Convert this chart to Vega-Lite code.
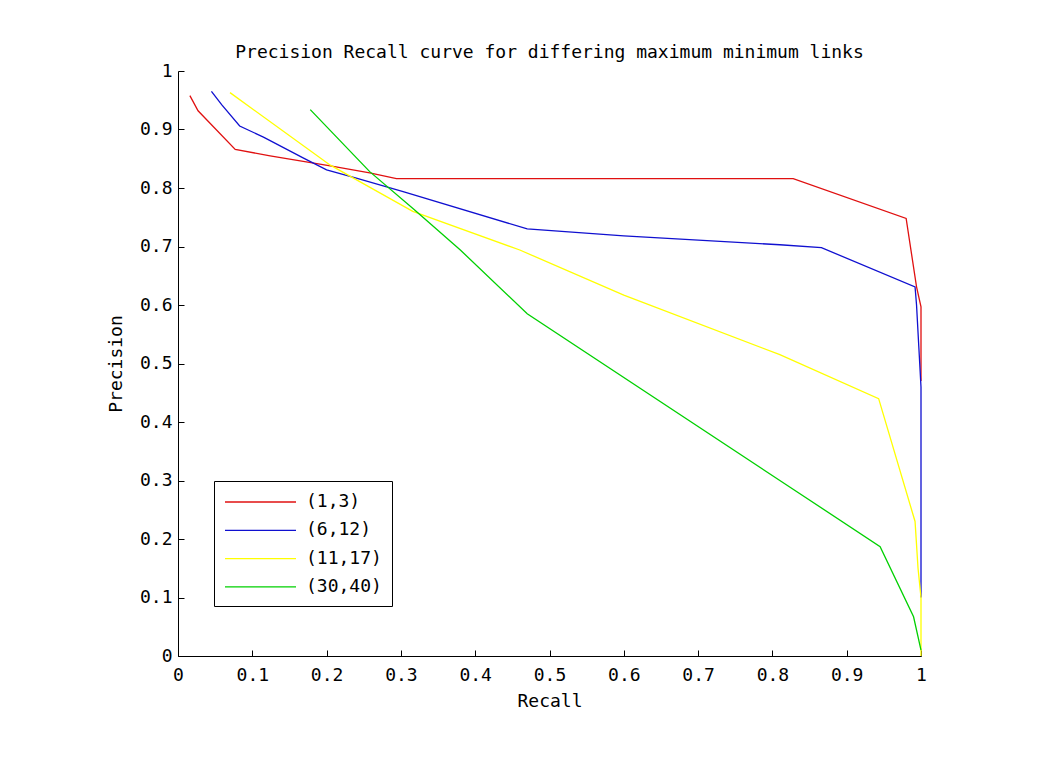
{
  "$schema": "https://vega.github.io/schema/vega-lite/v6.json",
  "width": 743,
  "height": 585,
  "autosize": {"type": "none"},
  "padding": {"left": 178, "top": 71, "right": 135, "bottom": 114},
  "background": "white",
  "title": {
    "text": "Precision Recall curve for differing maximum minimum links",
    "font": "DejaVu Sans Mono",
    "fontSize": 18,
    "fontWeight": "normal",
    "color": "black",
    "offset": 0
  },
  "data": {
    "values": [
      {"series": "(1,3)", "i": 1, "recall": 0.016, "precision": 0.958},
      {"series": "(1,3)", "i": 2, "recall": 0.027, "precision": 0.932},
      {"series": "(1,3)", "i": 3, "recall": 0.077, "precision": 0.866},
      {"series": "(1,3)", "i": 4, "recall": 0.124, "precision": 0.855},
      {"series": "(1,3)", "i": 5, "recall": 0.205, "precision": 0.838},
      {"series": "(1,3)", "i": 6, "recall": 0.258, "precision": 0.826},
      {"series": "(1,3)", "i": 7, "recall": 0.294, "precision": 0.816},
      {"series": "(1,3)", "i": 8, "recall": 0.5, "precision": 0.816},
      {"series": "(1,3)", "i": 9, "recall": 0.828, "precision": 0.816},
      {"series": "(1,3)", "i": 10, "recall": 0.98, "precision": 0.748},
      {"series": "(1,3)", "i": 11, "recall": 0.994, "precision": 0.631},
      {"series": "(1,3)", "i": 12, "recall": 1.0, "precision": 0.597},
      {"series": "(1,3)", "i": 13, "recall": 1.0, "precision": 0.47},
      {"series": "(6,12)", "i": 1, "recall": 0.045, "precision": 0.965},
      {"series": "(6,12)", "i": 2, "recall": 0.059, "precision": 0.942},
      {"series": "(6,12)", "i": 3, "recall": 0.083, "precision": 0.906},
      {"series": "(6,12)", "i": 4, "recall": 0.115, "precision": 0.887},
      {"series": "(6,12)", "i": 5, "recall": 0.169, "precision": 0.851},
      {"series": "(6,12)", "i": 6, "recall": 0.2, "precision": 0.831},
      {"series": "(6,12)", "i": 7, "recall": 0.24, "precision": 0.817},
      {"series": "(6,12)", "i": 8, "recall": 0.303, "precision": 0.794},
      {"series": "(6,12)", "i": 9, "recall": 0.47, "precision": 0.73},
      {"series": "(6,12)", "i": 10, "recall": 0.6, "precision": 0.718},
      {"series": "(6,12)", "i": 11, "recall": 0.81, "precision": 0.703},
      {"series": "(6,12)", "i": 12, "recall": 0.866, "precision": 0.698},
      {"series": "(6,12)", "i": 13, "recall": 0.992, "precision": 0.631},
      {"series": "(6,12)", "i": 14, "recall": 0.994, "precision": 0.6},
      {"series": "(6,12)", "i": 15, "recall": 0.997, "precision": 0.53},
      {"series": "(6,12)", "i": 16, "recall": 1.0, "precision": 0.46},
      {"series": "(6,12)", "i": 17, "recall": 1.0, "precision": 0.1},
      {"series": "(11,17)", "i": 1, "recall": 0.07, "precision": 0.963},
      {"series": "(11,17)", "i": 2, "recall": 0.205, "precision": 0.839},
      {"series": "(11,17)", "i": 3, "recall": 0.316, "precision": 0.76},
      {"series": "(11,17)", "i": 4, "recall": 0.46, "precision": 0.694},
      {"series": "(11,17)", "i": 5, "recall": 0.6, "precision": 0.617},
      {"series": "(11,17)", "i": 6, "recall": 0.81, "precision": 0.515},
      {"series": "(11,17)", "i": 7, "recall": 0.943, "precision": 0.44},
      {"series": "(11,17)", "i": 8, "recall": 0.992, "precision": 0.23},
      {"series": "(11,17)", "i": 9, "recall": 0.996, "precision": 0.15},
      {"series": "(11,17)", "i": 10, "recall": 1.0, "precision": 0.1},
      {"series": "(11,17)", "i": 11, "recall": 1.0, "precision": 0.0},
      {"series": "(30,40)", "i": 1, "recall": 0.178, "precision": 0.934},
      {"series": "(30,40)", "i": 2, "recall": 0.258, "precision": 0.828},
      {"series": "(30,40)", "i": 3, "recall": 0.317, "precision": 0.764},
      {"series": "(30,40)", "i": 4, "recall": 0.38, "precision": 0.694},
      {"series": "(30,40)", "i": 5, "recall": 0.47, "precision": 0.585},
      {"series": "(30,40)", "i": 6, "recall": 0.81, "precision": 0.3},
      {"series": "(30,40)", "i": 7, "recall": 0.945, "precision": 0.187},
      {"series": "(30,40)", "i": 8, "recall": 0.99, "precision": 0.067},
      {"series": "(30,40)", "i": 9, "recall": 1.0, "precision": 0.01}
    ]
  },
  "mark": {"type": "line", "strokeWidth": 1.3, "clip": false},
  "encoding": {
    "x": {
      "field": "recall",
      "type": "quantitative",
      "title": "Recall",
      "scale": {"domain": [0, 1], "nice": false, "zero": false},
      "axis": {
        "values": [0, 0.1, 0.2, 0.3, 0.4, 0.5, 0.6, 0.7, 0.8, 0.9, 1],
        "format": ".1~f",
        "grid": false,
        "tickSize": -6,
        "labelPadding": 16,
        "titlePadding": 8,
        "labelFlush": false
      }
    },
    "y": {
      "field": "precision",
      "type": "quantitative",
      "title": "Precision",
      "scale": {"domain": [0, 1], "nice": false, "zero": false},
      "axis": {
        "values": [0, 0.1, 0.2, 0.3, 0.4, 0.5, 0.6, 0.7, 0.8, 0.9, 1],
        "format": ".1~f",
        "grid": false,
        "tickSize": -6,
        "labelPadding": 12,
        "titlePadding": 14,
        "labelFlush": false
      }
    },
    "color": {
      "field": "series",
      "type": "nominal",
      "scale": {
        "domain": ["(1,3)", "(6,12)", "(11,17)", "(30,40)"],
        "range": ["#e01010", "#1010d0", "#ffff00", "#00d000"]
      },
      "legend": {
        "title": null,
        "orient": "none",
        "legendX": 36,
        "legendY": 410,
        "symbolType": "M-1,0H6.1",
        "symbolSize": 400,
        "symbolStrokeWidth": 1.3,
        "labelOffset": 60,
        "rowPadding": 8.3,
        "padding": 10,
        "strokeColor": "black",
        "fillColor": "white"
      }
    },
    "order": {"field": "i", "type": "quantitative"}
  },
  "config": {
    "view": {"stroke": null},
    "font": "DejaVu Sans Mono",
    "axis": {
      "domainColor": "black",
      "tickColor": "black",
      "labelColor": "black",
      "titleColor": "black",
      "labelFont": "DejaVu Sans Mono",
      "titleFont": "DejaVu Sans Mono",
      "labelFontSize": 18,
      "titleFontSize": 18,
      "titleFontWeight": "normal"
    },
    "legend": {
      "labelFont": "DejaVu Sans Mono",
      "labelFontSize": 18,
      "labelColor": "black"
    }
  }
}
